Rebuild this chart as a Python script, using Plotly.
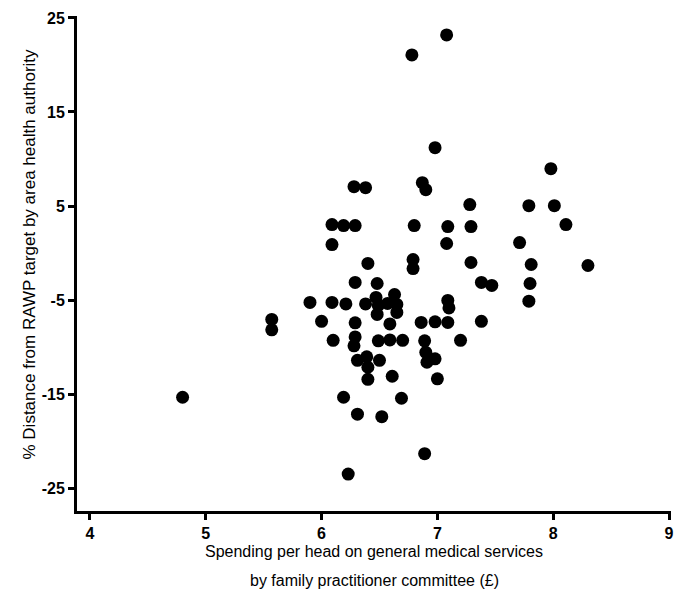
import plotly.graph_objects as go

# Spending per head on general medical services (£) by FPC
spending = [
    7.08, 6.78, 6.98, 7.98, 6.87, 6.90, 6.28, 6.38, 7.28, 7.79,
    8.01, 6.09, 6.19, 6.29, 6.80, 7.09, 7.29, 8.11, 6.09, 7.08,
    7.71, 6.40, 6.79, 6.79, 7.29, 7.81, 8.30, 6.29, 6.48, 7.38,
    7.47, 7.80, 5.90, 6.09, 6.21, 6.38, 6.47, 6.63, 6.65, 6.57,
    6.49, 6.48, 6.65, 6.59, 5.57, 5.57, 6.00, 6.29, 6.86, 6.98,
    7.09, 7.38, 7.79, 7.09, 7.10, 6.10, 6.29, 6.28, 6.49, 6.59,
    6.70, 6.89, 7.20, 6.90, 6.98, 6.91, 6.31, 6.39, 6.50, 6.40,
    6.40, 6.61, 7.00, 4.80, 6.19, 6.69, 6.31, 6.52, 6.89, 6.23,
]

# % distance from RAWP target by area health authority
distance = [
    23.2, 21.07, 11.2, 8.97, 7.48, 6.74, 7.06, 6.95, 5.15, 5.04,
    5.04, 3.03, 2.92, 2.92, 2.92, 2.81, 2.81, 3.03, 0.90, 1.01,
    1.11, -1.11, -0.69, -1.65, -1.01, -1.22, -1.33, -3.13, -3.24, -3.13,
    -3.45, -3.24, -5.25, -5.25, -5.41, -5.41, -4.72, -4.41, -5.47, -5.36,
    -5.57, -6.53, -6.32, -7.54, -7.06, -8.17, -7.27, -7.43, -7.38, -7.32,
    -7.38, -7.27, -5.12, -5.04, -5.84, -9.29, -8.92, -9.87, -9.34, -9.24,
    -9.29, -9.34, -9.29, -10.56, -11.25, -11.62, -11.41, -11.04, -11.41, -12.15,
    -13.43, -13.11, -13.38, -15.34, -15.34, -15.45, -17.14, -17.41, -21.34, -23.51,
]

x_ticks = [4, 5, 6, 7, 8, 9]
x_tick_labels = ["4", "5", "6", "7", "8", "9"]
y_ticks = [25, 15, 5, -5, -15, -25]
y_tick_labels = ["25", "15", "5", "-5", "-15", "-25"]

x_title_lines = [
    "Spending per head on general medical services",
    "by family practitioner committee (£)",
]
y_title = "% Distance from RAWP target by area health authority"

fig = go.Figure()
fig.add_trace(go.Scatter(
    x=spending, y=distance, mode="markers",
    marker=dict(color="black", size=13, line=dict(width=0)),
    showlegend=False, hoverinfo="x+y",
))

tick_font = dict(family="Liberation Sans, Arial, sans-serif", size=16, color="black")
axis_common = dict(
    showgrid=False, zeroline=False, showline=True, linecolor="black", linewidth=3,
    ticks="outside", ticklen=6, tickwidth=2.5, tickcolor="black", tickfont=tick_font,
)

fig.update_xaxes(range=[3.8883, 9.0172], tickvals=x_ticks,
                 ticktext=[f"<b>{t}</b>" for t in x_tick_labels], **axis_common)
fig.update_yaxes(range=[-27.44, 25.21], tickvals=y_ticks,
                 ticktext=[f"<b>{t}</b>" for t in y_tick_labels], **axis_common)

for i, line in enumerate(x_title_lines):
    fig.add_annotation(
        text=line, xref="paper", yref="paper", x=0.5, y=0,
        xanchor="center", yanchor="middle", yshift=-40 - 29 * i,
        showarrow=False,
        font=dict(family="Liberation Sans, Arial, sans-serif", size=16, color="black"),
    )
fig.add_annotation(
    text=y_title, xref="paper", yref="paper", x=0, y=0.5,
    xanchor="center", yanchor="middle", xshift=-48, yshift=9, textangle=-90,
    showarrow=False,
    font=dict(family="Liberation Sans, Arial, sans-serif", size=17, color="black"),
)

fig.update_layout(
    width=684, height=595,
    margin=dict(l=77, r=10, t=15, b=84),
    plot_bgcolor="white", paper_bgcolor="white",
)

fig.write_html("out.html", config={"displayModeBar": False},
               post_script="document.body.style.margin='0';")
